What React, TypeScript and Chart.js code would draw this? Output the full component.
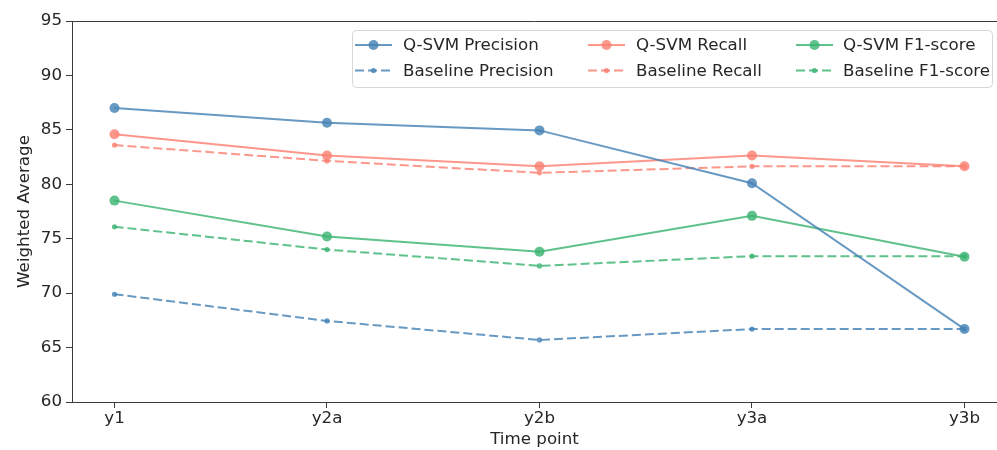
import React, { useEffect, useRef } from "react";
import { Chart, registerables } from "chart.js";

Chart.register(...registerables);

const timePoints = ["y1", "y2a", "y2b", "y3a", "y3b"];
const qsvmPrecision = [87.0, 85.65, 84.95, 80.1, 66.7];
const baselinePrecision = [69.9, 67.45, 65.7, 66.7, 66.7];
const qsvmRecall = [84.6, 82.65, 81.65, 82.65, 81.65];
const baselineRecall = [83.6, 82.15, 81.05, 81.65, 81.65];
const qsvmF1 = [78.5, 75.2, 73.8, 77.1, 73.35];
const baselineF1 = [76.1, 74.0, 72.5, 73.4, 73.4];
const yTicks = [60, 65, 70, 75, 80, 85, 90, 95];

const BLUE = "rgba(70,130,180,0.82)";
const RED = "rgba(250,128,114,0.82)";
const GREEN = "rgba(60,179,113,0.82)";
const FONT = "'DejaVu Sans', sans-serif";
const FS = 16.7;

function toPoints(vals: number[]) {
  return vals.map((v, i) => ({ x: i, y: v }));
}

function makeSet(label: string, vals: number[], color: string, dashed: boolean) {
  return {
    label,
    data: toPoints(vals),
    borderColor: color,
    backgroundColor: color,
    pointBackgroundColor: color,
    pointBorderColor: color,
    pointBorderWidth: 0,
    pointRadius: dashed ? 2.6 : 5,
    pointHoverRadius: dashed ? 2.6 : 5,
    borderWidth: 2,
    borderDash: dashed ? [9, 4] : [],
    tension: 0,
    fill: false,
    clip: false,
  };
}

const framePlugin = {
  id: "frame",
  afterDraw(chart: any) {
    const { ctx, chartArea } = chart;
    ctx.save();
    ctx.strokeStyle = "#3a3a3a";
    ctx.lineWidth = 1;
    ctx.beginPath();
    ctx.moveTo(chartArea.left, chartArea.top + 0.5);
    ctx.lineTo(chartArea.right, chartArea.top + 0.5);
    ctx.stroke();
    ctx.restore();
  },
};

const legendPlugin = {
  id: "customLegend",
  afterDraw(chart: any) {
    const { ctx } = chart;
    const ds = chart.data.datasets;
    ctx.save();
    const bx = 352.5, by = 30.5, bw = 640, bh = 57, r = 4;
    ctx.beginPath();
    ctx.moveTo(bx + r, by);
    ctx.lineTo(bx + bw - r, by);
    ctx.arcTo(bx + bw, by, bx + bw, by + r, r);
    ctx.lineTo(bx + bw, by + bh - r);
    ctx.arcTo(bx + bw, by + bh, bx + bw - r, by + bh, r);
    ctx.lineTo(bx + r, by + bh);
    ctx.arcTo(bx, by + bh, bx, by + bh - r, r);
    ctx.lineTo(bx, by + r);
    ctx.arcTo(bx, by, bx + r, by, r);
    ctx.closePath();
    ctx.fillStyle = "rgba(255,255,255,0.85)";
    ctx.fill();
    ctx.strokeStyle = "#d6d6d6";
    ctx.lineWidth = 1;
    ctx.stroke();

    const colX = [355, 588, 796];
    const textX = [403, 636, 843];
    const rowY = [45, 70.5];
    ctx.font = `${FS}px ${FONT}`;
    ctx.textBaseline = "middle";
    ctx.textAlign = "left";
    ds.forEach((d: any, i: number) => {
      const col = Math.floor(i / 2);
      const row = i % 2;
      const x0 = colX[col];
      const y = rowY[row];
      const len = 37;
      ctx.strokeStyle = d.borderColor;
      ctx.lineWidth = d.borderWidth;
      ctx.setLineDash(d.borderDash || []);
      ctx.beginPath();
      ctx.moveTo(x0, y);
      ctx.lineTo(x0 + len, y);
      ctx.stroke();
      ctx.setLineDash([]);
      ctx.fillStyle = d.pointBackgroundColor;
      ctx.beginPath();
      ctx.arc(x0 + len / 2, y, d.pointRadius, 0, Math.PI * 2);
      ctx.fill();
      ctx.fillStyle = "#262626";
      ctx.fillText(d.label, textX[col], y + 1);
    });
    ctx.restore();
  },
};

export default function App() {
  const ref = useRef<HTMLCanvasElement | null>(null);
  useEffect(() => {
    if (!ref.current) return;
    const chart = new Chart(ref.current, {
      type: "line",
      data: {
        datasets: [
          makeSet("Q-SVM Precision", qsvmPrecision, BLUE, false),
          makeSet("Baseline Precision", baselinePrecision, BLUE, true),
          makeSet("Q-SVM Recall", qsvmRecall, RED, false),
          makeSet("Baseline Recall", baselineRecall, RED, true),
          makeSet("Q-SVM F1-score", qsvmF1, GREEN, false),
          makeSet("Baseline F1-score", baselineF1, GREEN, true),
        ] as any,
      },
      options: {
        animation: false,
        responsive: false,
        devicePixelRatio: 1,
        layout: { autoPadding: false, padding: { top: 21, right: 0, left: 0, bottom: 0 } },
        plugins: { legend: { display: false }, tooltip: { enabled: false } },
        scales: {
          x: {
            type: "linear",
            min: -0.2,
            max: 4.153,
            afterBuildTicks: (scale: any) => {
              scale.ticks = timePoints.map((_, i) => ({ value: i }));
            },
            afterFit: (scale: any) => {
              scale.height = 48;
              scale.paddingLeft = 0;
              scale.paddingRight = 0;
            },
            ticks: {
              callback: (v: any) => timePoints[Math.round(Number(v))] ?? "",
              font: { family: FONT, size: FS },
              color: "#262626",
              padding: 1,
              maxRotation: 0,
              autoSkip: false,
            },
            grid: {
              drawOnChartArea: false,
              drawTicks: true,
              tickLength: 6,
              color: "#3a3a3a",
            },
            border: { display: true, color: "#3a3a3a", width: 1 },
            title: {
              display: true,
              text: "Time point",
              font: { family: FONT, size: FS },
              color: "#262626",
              padding: { top: 0, bottom: 0 },
            },
          },
          y: {
            min: 60,
            max: 95,
            afterBuildTicks: (scale: any) => {
              scale.ticks = yTicks.map((v) => ({ value: v }));
            },
            afterFit: (scale: any) => {
              scale.width = 72;
            },
            ticks: {
              font: { family: FONT, size: FS },
              color: "#262626",
              padding: 4,
            },
            grid: {
              drawOnChartArea: false,
              drawTicks: true,
              tickLength: 6,
              color: "#3a3a3a",
            },
            border: { display: true, color: "#3a3a3a", width: 1 },
            title: {
              display: true,
              text: "Weighted Average",
              font: { family: FONT, size: FS },
              color: "#262626",
              padding: { top: 15, bottom: 0 },
            },
          },
        },
      } as any,
      plugins: [framePlugin, legendPlugin],
    });
    return () => chart.destroy();
  }, []);
  return (
    <div style={{ position: "fixed", left: 0, top: 0, width: 997, height: 450, background: "#fff" }}>
      <canvas ref={ref} width={997} height={450} />
    </div>
  );
}
